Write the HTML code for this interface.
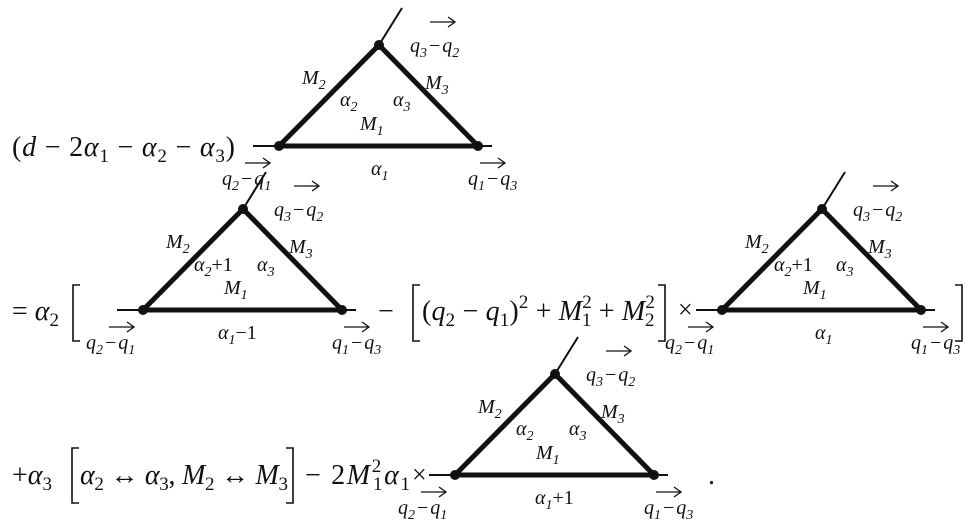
<!DOCTYPE html>
<html><head><meta charset="utf-8"><style>
html,body{margin:0;padding:0;background:#fff}
svg{display:block}
text{font-family:"Liberation Serif",serif;fill:#111}
.i{font-style:italic}
.s{font-size:20px}
.b{font-size:28px}
</style></head><body>
<svg width="975" height="524" viewBox="0 0 975 524" xmlns="http://www.w3.org/2000/svg">
<defs>
<g id="ar"><line x1="0" y1="0" x2="24" y2="0" stroke="#111" stroke-width="1.3"/><path d="M18 -5 L25 0 L18 5" fill="none" stroke="#111" stroke-width="1.3"/></g>
<g id="tri">
<line x1="-26" y1="0" x2="213" y2="0" stroke="#111" stroke-width="2"/>
<polygon points="0,0 100,-101 199,0" fill="none" stroke="#111" stroke-width="5" stroke-linejoin="round"/>
<line x1="100" y1="-101" x2="123" y2="-138" stroke="#111" stroke-width="2"/>
<circle cx="0" cy="0" r="5" fill="#111"/><circle cx="100" cy="-101" r="5" fill="#111"/><circle cx="199" cy="0" r="5" fill="#111"/>
<text class="s i" x="23" y="-62">M<tspan font-size="14" dy="5">2</tspan></text>
<text class="s i" x="146" y="-57">M<tspan font-size="14" dy="5">3</tspan></text>
<text class="s i" x="81" y="-16">M<tspan font-size="14" dy="5">1</tspan></text>
<use href="#ar" x="151" y="-124"/>
<text class="s i" x="131" y="-94">q<tspan font-size="14" dy="5">3</tspan><tspan dy="-5" font-style="normal" dx="2">−</tspan><tspan dx="2">q</tspan><tspan font-size="14" dy="5">2</tspan></text>
<use href="#ar" x="-34" y="17"/>
<text class="s i" x="-57" y="39">q<tspan font-size="14" dy="5">2</tspan><tspan dy="-5" font-style="normal" dx="2">−</tspan><tspan dx="2">q</tspan><tspan font-size="14" dy="5">1</tspan></text>
<use href="#ar" x="201" y="17"/>
<text class="s i" x="189" y="39">q<tspan font-size="14" dy="5">1</tspan><tspan dy="-5" font-style="normal" dx="2">−</tspan><tspan dx="2">q</tspan><tspan font-size="14" dy="5">3</tspan></text>
</g>
</defs>

<use href="#tri" x="279" y="146"/>
<text class="s i" x="340" y="106">α<tspan font-size="14" dy="5">2</tspan></text>
<text class="s i" x="393" y="106">α<tspan font-size="14" dy="5">3</tspan></text>
<text class="s i" x="371" y="175">α<tspan font-size="14" dy="5">1</tspan></text>
<text class="b" x="12" y="156" textLength="223">(<tspan class="i">d</tspan> − 2<tspan class="i">α</tspan><tspan font-size="19" dy="6">1</tspan><tspan dy="-6"> − </tspan><tspan class="i">α</tspan><tspan font-size="19" dy="6">2</tspan><tspan dy="-6"> − </tspan><tspan class="i">α</tspan><tspan font-size="19" dy="6">3</tspan><tspan dy="-6">)</tspan></text>

<text class="b" x="12" y="320">= <tspan class="i">α</tspan><tspan font-size="19" dy="6">2</tspan></text>
<path d="M80 285 H73 V341 H80" fill="none" stroke="#111" stroke-width="1.6"/>
<use href="#tri" x="143" y="310"/>
<text class="s i" x="194" y="271">α<tspan font-size="14" dy="5">2</tspan><tspan dy="-5" font-style="normal">+1</tspan></text>
<text class="s i" x="257" y="271">α<tspan font-size="14" dy="5">3</tspan></text>
<text class="s i" x="218" y="339">α<tspan font-size="14" dy="5">1</tspan><tspan dy="-5" font-style="normal">−1</tspan></text>
<text class="b" x="378" y="320">−</text>
<path d="M420 285 H413 V341 H420" fill="none" stroke="#111" stroke-width="1.6"/>
<text class="b" x="422" y="320" textLength="233">(<tspan class="i">q</tspan><tspan font-size="19" dy="6">2</tspan><tspan dy="-6"> − </tspan><tspan class="i">q</tspan><tspan font-size="19" dy="6">1</tspan><tspan dy="-6">)</tspan><tspan font-size="19" dy="-12">2</tspan><tspan dy="12"> + </tspan><tspan class="i">M</tspan><tspan font-size="19" dy="-12">2</tspan><tspan font-size="19" dx="-10" dy="18">1</tspan><tspan dy="-6"> + </tspan><tspan class="i">M</tspan><tspan font-size="19" dy="-12">2</tspan><tspan font-size="19" dx="-10" dy="18">2</tspan></text>
<path d="M658 285 H665 V341 H658" fill="none" stroke="#111" stroke-width="1.6"/>
<text x="678" y="318" font-size="26">×</text>
<use href="#tri" x="722" y="310"/>
<text class="s i" x="774" y="271">α<tspan font-size="14" dy="5">2</tspan><tspan dy="-5" font-style="normal">+1</tspan></text>
<text class="s i" x="836" y="271">α<tspan font-size="14" dy="5">3</tspan></text>
<text class="s i" x="815" y="339">α<tspan font-size="14" dy="5">1</tspan></text>
<path d="M955 285 H962 V341 H955" fill="none" stroke="#111" stroke-width="1.6"/>

<text class="b" x="12" y="484">+<tspan class="i">α</tspan><tspan font-size="19" dy="6">3</tspan></text>
<path d="M79 448 H72 V503 H79" fill="none" stroke="#111" stroke-width="1.6"/>
<text class="b" x="80" y="484" textLength="208"><tspan class="i">α</tspan><tspan font-size="19" dy="6">2</tspan><tspan dy="-6"> ↔ </tspan><tspan class="i">α</tspan><tspan font-size="19" dy="6">3</tspan><tspan dy="-6">, </tspan><tspan class="i">M</tspan><tspan font-size="19" dy="6">2</tspan><tspan dy="-6"> ↔ </tspan><tspan class="i">M</tspan><tspan font-size="19" dy="6">3</tspan></text>
<path d="M286 448 H293 V503 H286" fill="none" stroke="#111" stroke-width="1.6"/>
<text class="b" x="305" y="484" textLength="105">− 2<tspan class="i">M</tspan><tspan font-size="19" dy="-12">2</tspan><tspan font-size="19" dx="-10" dy="18">1</tspan><tspan class="i" dy="-6">α</tspan><tspan font-size="19" dy="6">1</tspan></text>
<text x="412" y="483" font-size="26">×</text>
<use href="#tri" x="455" y="475"/>
<text class="s i" x="516" y="435">α<tspan font-size="14" dy="5">2</tspan></text>
<text class="s i" x="569" y="435">α<tspan font-size="14" dy="5">3</tspan></text>
<text class="s i" x="535" y="504">α<tspan font-size="14" dy="5">1</tspan><tspan dy="-5" font-style="normal">+1</tspan></text>
<text class="b" x="708" y="484">.</text>
</svg>
</body></html>
